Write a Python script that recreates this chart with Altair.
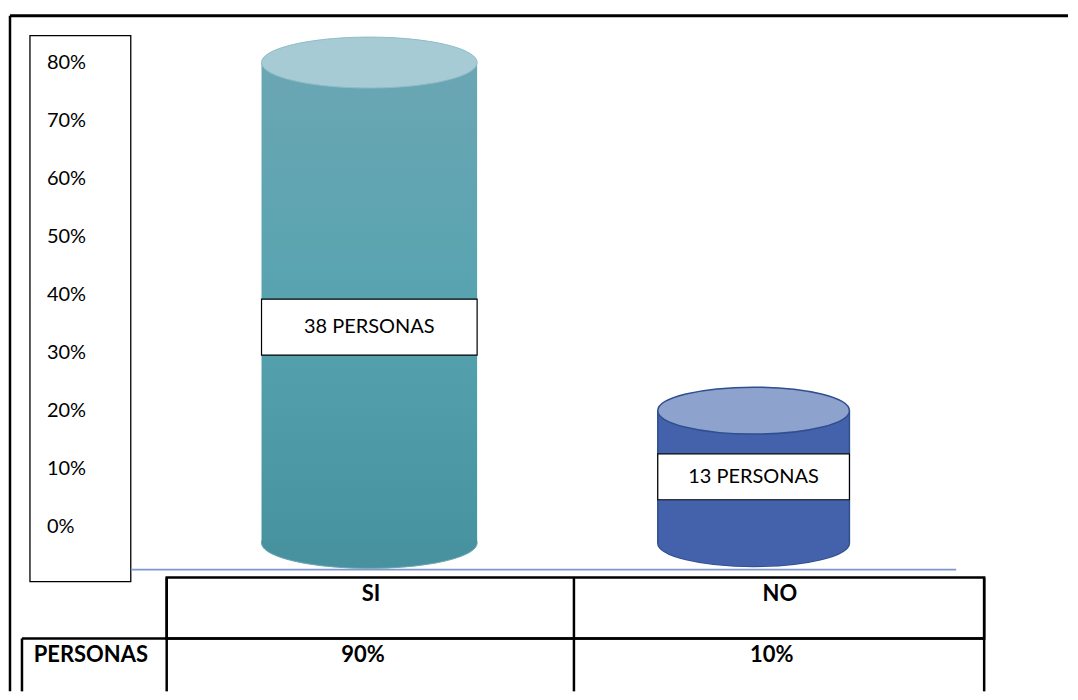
import altair as alt
import pandas as pd

# ---- data ----
categories = ["SI", "NO"]
bar_height_pct = [80, 20]        # visual height of each cylinder against the axis
personas = [38, 13]
table_pct = ["90%", "10%"]
axis_ticks = [0, 10, 20, 30, 40, 50, 60, 70, 80]
base_pct = -2.8                   # centre of the cylinders' bottom ellipses

df = pd.DataFrame({"cat": categories, "pct": bar_height_pct,
                   "personas": personas, "tabla": table_pct})
ticks_df = pd.DataFrame({"t": axis_ticks})

W, H = 1062, 684
FONT = "Lato"

yscale = alt.Scale(domain=[-28.387, 89.29], nice=False, zero=False)
xscale = alt.Scale(domain=categories, range=[169.5, 939.5], paddingInner=0, paddingOuter=0)
xtable = alt.Scale(domain=categories, range=[159, 978], paddingInner=0, paddingOuter=0)

one = alt.Data(values=[{}])


def ellipse_path(r):
    k = 0.5523
    return (f"M -1 0 C -1 {-k*r:.4f} {-k:.4f} {-r:.4f} 0 {-r:.4f} "
            f"C {k:.4f} {-r:.4f} 1 {-k*r:.4f} 1 0 "
            f"C 1 {k*r:.4f} {k:.4f} {r:.4f} 0 {r:.4f} "
            f"C {-k:.4f} {r:.4f} -1 {k*r:.4f} -1 0 Z")


def rule(x, x2, y, y2, color="black", sw=2.5):
    return alt.Chart(one).mark_rule(color=color, strokeWidth=sw).encode(
        x=alt.value(x), x2=alt.value(x2), y=alt.value(y), y2=alt.value(y2))


def cylinder(cat, width, r, body, top_fill, top_stroke, bottom_fill, stroke, sw, side):
    src = alt.Chart(df).transform_filter(alt.datum.cat == cat).transform_calculate(b=str(base_pct))
    X = alt.X("cat:N", scale=xscale, axis=None)
    bottom = src.mark_point(shape=ellipse_path(r), filled=True, fill=bottom_fill,
                            stroke=stroke, strokeWidth=sw, opacity=1,
                            size=width * width).encode(
        x=X, y=alt.Y("b:Q", scale=yscale, axis=None))
    layers = [bottom]
    if side:
        layers.append(src.mark_bar(width=width + sw, color=stroke).encode(
            x=X, y=alt.Y("pct:Q", scale=yscale, axis=None), y2=alt.Y2("b:Q")))
        bw = width - sw
    else:
        bw = width
    layers.append(src.mark_bar(width=bw, color=body).encode(
        x=X, y=alt.Y("pct:Q", scale=yscale, axis=None), y2=alt.Y2("b:Q")))
    if side:
        layers.append(src.mark_point(shape=ellipse_path(r), filled=True, fill=bottom_fill,
                                     opacity=1, size=(width - sw) ** 2).encode(
            x=X, y=alt.Y("b:Q", scale=yscale, axis=None)))
    layers.append(src.mark_point(shape=ellipse_path(r), filled=True, fill=top_fill,
                                 stroke=top_stroke, strokeWidth=sw, opacity=1,
                                 size=width * width).encode(
        x=X, y=alt.Y("pct:Q", scale=yscale, axis=None)))
    half = 4.82 if cat == "SI" else 3.96
    lab = src.transform_calculate(
        ly=alt.datum.pct * 0.43,
        lt=alt.datum.pct * 0.43 + half,
        lb=alt.datum.pct * 0.43 - half,
        txt=alt.datum.personas + " PERSONAS")
    layers.append(lab.mark_bar(width=width, fill="white", stroke="black", strokeWidth=1.2).encode(
        x=X, y=alt.Y("lt:Q", scale=yscale, axis=None), y2="lb:Q"))
    layers.append(lab.mark_text(font=FONT, fontSize=20, color="black").encode(
        x=X, y=alt.Y("ly:Q", scale=yscale, axis=None), text="txt:N"))
    return layers


si_grad = alt.LinearGradient(
    gradient="linear", x1=0, x2=0, y1=0, y2=1,
    stops=[alt.GradientStop(color="#6ba6b3", offset=0),
           alt.GradientStop(color="#58a3b0", offset=0.5),
           alt.GradientStop(color="#4793a0", offset=1)])

layers = []
# outer frame
layers.append(rule(2, W, 7, 7, sw=3))
layers.append(rule(2, 2, 7, H, sw=2.5))
# axis box
layers.append(alt.Chart(one).mark_rect(fill="white", stroke="black", strokeWidth=1.3).encode(
    x=alt.value(22), x2=alt.value(123), y=alt.value(27), y2=alt.value(574)))
# category baseline
layers.append(rule(123, 950, 562, 562, color="#8096cc", sw=1.6))

layers += cylinder("SI", 216, 0.236, si_grad, "#a7cbd4", "#8fbcc6", "#4892a0", "#6aa8b4", 1, False)
layers += cylinder("NO", 192, 0.245, "#4462ab", "#8ea2ce", "#2f4f8f", "#4462ab", "#2f4f8f", 1.5, True)

# axis labels
layers.append(alt.Chart(ticks_df).transform_calculate(lbl=alt.datum.t + "%").mark_text(
    font=FONT, fontSize=20, align="left", color="black").encode(
    x=alt.value(39), y=alt.Y("t:Q", scale=yscale, axis=None), text="lbl:N"))

# data table
layers.append(alt.Chart(one).mark_rect(fill=None, stroke="black", strokeWidth=2.5).encode(
    x=alt.value(159), x2=alt.value(978), y=alt.value(570), y2=alt.value(631)))
layers.append(rule(14, 978, 631, 631))
layers.append(rule(159, 159, 570, H))
layers.append(rule(567, 567, 570, H))
layers.append(rule(978, 978, 570, H))
layers.append(rule(14, 14, 631, H))

layers.append(alt.Chart(df).mark_text(font=FONT, fontSize=22, fontWeight="bold", color="black").encode(
    x=alt.X("cat:N", scale=xtable, axis=None), y=alt.value(586), text="cat:N"))
layers.append(alt.Chart(df).mark_text(font=FONT, fontSize=22, fontWeight="bold", color="black", dx=-8).encode(
    x=alt.X("cat:N", scale=xtable, axis=None), y=alt.value(648), text="tabla:N"))
layers.append(alt.Chart(one).mark_text(font=FONT, fontSize=22, fontWeight="bold", color="black").encode(
    x=alt.value(83), y=alt.value(648), text=alt.value("PERSONAS")))

chart = alt.layer(*layers).resolve_scale(x="independent").properties(
    width=W, height=H, padding=0
).configure_view(stroke=None)

chart.save("out.html", embed_options={"renderer": "svg", "actions": False})
